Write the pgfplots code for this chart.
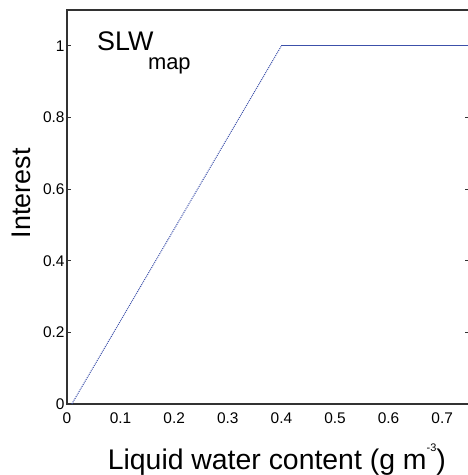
\documentclass[border=0pt]{standalone}
\usepackage{pgfplots}
\pgfplotsset{compat=1.18}
\usepackage{fontspec}
\setmainfont{Liberation Sans}
\definecolor{lineblue}{RGB}{60,80,170}
\definecolor{axgray}{RGB}{50,50,50}
\begin{document}
\begin{tikzpicture}
\begin{axis}[
  at={(0,0)}, anchor=south west,
  scale only axis,
  width=402bp, height=394bp,
  xmin=0, xmax=0.75, ymin=0, ymax=1.1,
  xtick={0,0.1,0.2,0.3,0.4,0.5,0.6,0.7},
  xticklabels={0,0.1,0.2,0.3,0.4,0.5,0.6,0.7},
  ytick={0,0.2,0.4,0.6,0.8,1},
  yticklabels={0,0.2,0.4,0.6,0.8,1},
  /pgf/number format/assume math mode=true,
  tick align=inside,
  major tick length=4bp,
  ytick pos=both,
  xtick pos=bottom,
  major x tick style={draw=none},
  axis line style={axgray, line width=1.5bp},
  tick style={axgray, line width=1bp},
  tick label style={font=\fontsize{15.5}{18}\selectfont, text=black},
  xticklabel style={yshift=-5bp},
  yticklabel style={xshift=1bp},
  xlabel={Liquid water content (g m\raisebox{0.6em}{\fontsize{11}{11}\selectfont -3})},
  ylabel={Interest},
  xlabel style={font=\fontsize{28.5}{30}\selectfont, at={(rel axis cs:0.522,-0.165)}, anchor=base},
  ylabel style={font=\fontsize{27}{30}\selectfont, at={(rel axis cs:-0.0896,0.535)}, anchor=base, rotate=0},
]
\addplot[lineblue, line width=1bp, densely dotted] coordinates {(0.009,0) (0.4,1)};
\addplot[lineblue, line width=1.1bp] coordinates {(0.4,1) (0.75,1)};
\node[anchor=base west, inner sep=0, font=\fontsize{27}{30}\selectfont] at (rel axis cs:0.0746,0.898) {SLW};
\node[anchor=base west, inner sep=0, font=\fontsize{22}{24}\selectfont] at (rel axis cs:0.201,0.848) {map};
\end{axis}
\pgfresetboundingbox
\path[use as bounding box] (-67bp,-71bp) rectangle (401bp,404bp);
\end{tikzpicture}
\end{document}
